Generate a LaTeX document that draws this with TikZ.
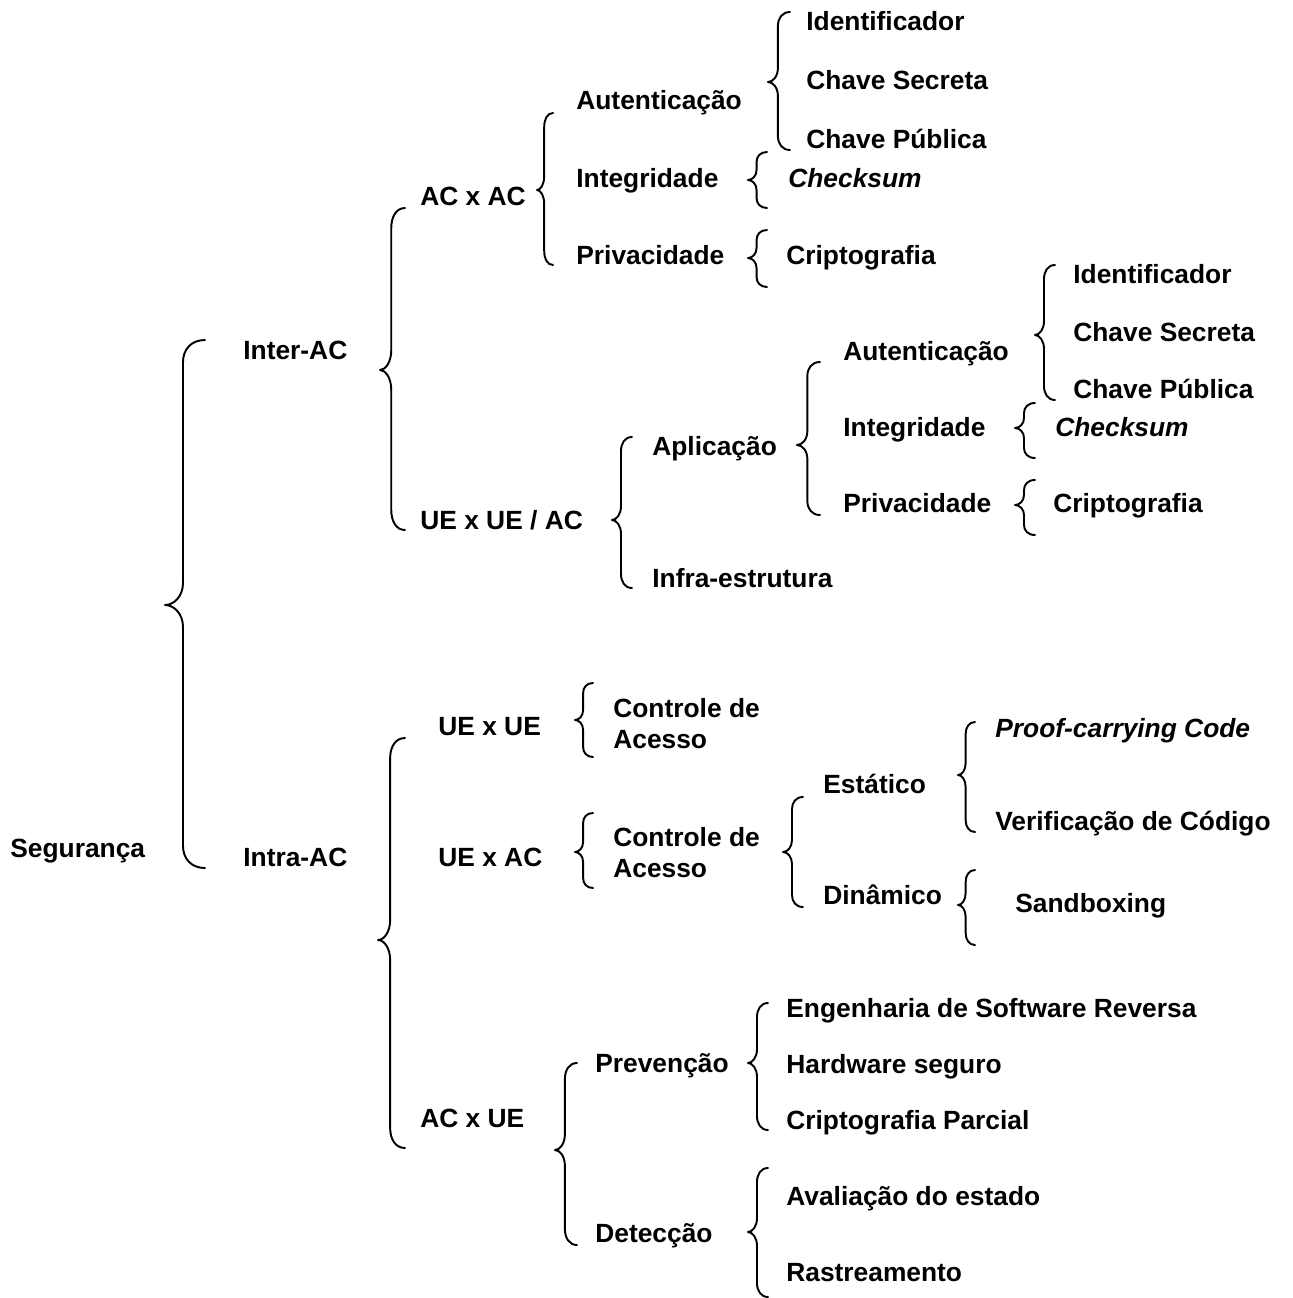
\documentclass[tikz,border=0pt]{standalone}
\usepackage{fontspec}
\setmainfont{Liberation Sans}
\newcommand{\cbrace}[6]{%
  \pgfmathsetmacro{\brXv}{#1+0.45*(#2-#1)}%
  \pgfmathsetmacro{\brXa}{\brXv+0.35*(#2-\brXv)}%
  \pgfmathsetmacro{\brXm}{#1+0.5*(\brXv-#1)}%
  \draw[bracestyle] (#2,#3) .. controls (\brXa,#3) and (\brXv,#3+0.45*#6) .. (\brXv,#3+#6)
    -- (\brXv,#4-#6) .. controls (\brXv,#4-0.4*#6) and (\brXm,#4) .. (#1,#4)
    .. controls (\brXm,#4) and (\brXv,#4+0.4*#6) .. (\brXv,#4+#6)
    -- (\brXv,#5-#6) .. controls (\brXv,#5-0.45*#6) and (\brXa,#5) .. (#2,#5);%
}
\begin{document}
\begin{tikzpicture}[x=0.02cm,y=-0.02cm,
  bracestyle/.style={line width=1.1pt,line cap=round,line join=round},
  lbl/.style={anchor=base west,inner sep=0pt,font=\fontsize{15}{17.6}\selectfont\bfseries},
  lbl2/.style={anchor=west,inner sep=0pt,align=left,font=\fontsize{15}{17.6}\selectfont\bfseries}]
\useasboundingbox[fill=white] (0,0) rectangle (1292,1298);
% labels (baseline = visual centre + 9)
\node[lbl] (seg) at (10,857) {Segurança};
\node[lbl] (inter) at (243,359) {Inter-AC};
\node[lbl] (intra) at (243,866) {Intra-AC};
\node[lbl] (acac) at (420,205) {AC x AC};
\node[lbl] (ueueac) at (420,529) {UE x UE / AC};
\node[lbl] (aut1) at (576,109) {Autenticação};
\node[lbl] (int1) at (576,187) {Integridade};
\node[lbl] (pri1) at (576,264) {Privacidade};
\node[lbl] (id1) at (806,31) {Identificador};
\node[lbl] (cs1) at (806,89) {Chave Secreta};
\node[lbl] (cp1) at (806,148) {Chave Pública};
\node[lbl] (chk1) at (788,187) {\itshape Checksum};
\node[lbl] (cri1) at (786,264) {Criptografia};
\node[lbl] (apl) at (652,455) {Aplicação};
\node[lbl] (infra) at (652,587) {Infra-estrutura};
\node[lbl] (aut2) at (843,360) {Autenticação};
\node[lbl] (int2) at (843,436) {Integridade};
\node[lbl] (pri2) at (843,512) {Privacidade};
\node[lbl] (id2) at (1073,283) {Identificador};
\node[lbl] (cs2) at (1073,341) {Chave Secreta};
\node[lbl] (cp2) at (1073,398) {Chave Pública};
\node[lbl] (chk2) at (1055,436) {\itshape Checksum};
\node[lbl] (cri2) at (1053,512) {Criptografia};
\node[lbl] (ueue) at (438,735) {UE x UE};
\node[lbl2] (ca1) at (613,723.4) {Controle de\\Acesso};
\node[lbl] (ueac) at (438,866) {UE x AC};
\node[lbl2] (ca2) at (613,852.8) {Controle de\\Acesso};
\node[lbl] (est) at (823,793) {Estático};
\node[lbl] (din) at (823,904) {Dinâmico};
\node[lbl] (pcc) at (995,737) {\itshape Proof-carrying Code};
\node[lbl] (ver) at (995,830) {Verificação de Código};
\node[lbl] (sand) at (1015,912) {Sandboxing};
\node[lbl] (acue) at (420,1127) {AC x UE};
\node[lbl] (prev) at (595,1072) {Prevenção};
\node[lbl] (det) at (595,1242) {Detecção};
\node[lbl] (eng) at (786,1017) {Engenharia de Software Reversa};
\node[lbl] (hw) at (786,1073) {Hardware seguro};
\node[lbl] (crp) at (786,1129) {Criptografia Parcial};
\node[lbl] (ava) at (786,1205) {Avaliação do estado};
\node[lbl] (ras) at (786,1281) {Rastreamento};
% braces: tip x, hook x, top, tip y, bottom, radius
\cbrace{165}{205}{340}{605}{868}{22}
\cbrace{380}{405}{208}{370}{530}{20}
\cbrace{378}{405}{738}{940}{1148}{20}
\cbrace{537}{553}{113}{190}{265}{14}
\cbrace{768}{790}{12}{82}{150}{14}
\cbrace{748}{767}{152}{180}{208}{10}
\cbrace{748}{767}{230}{258}{287}{10}
\cbrace{612}{632}{437}{520}{588}{14}
\cbrace{797}{820}{362}{445}{515}{14}
\cbrace{1035}{1055}{265}{335}{400}{14}
\cbrace{1015}{1035}{403}{428}{458}{10}
\cbrace{1015}{1035}{480}{505}{535}{10}
\cbrace{575}{593}{683}{720}{757}{10}
\cbrace{575}{593}{813}{852}{888}{10}
\cbrace{783}{803}{797}{852}{907}{12}
\cbrace{958}{975}{722}{775}{832}{12}
\cbrace{958}{975}{870}{905}{945}{12}
\cbrace{555}{577}{1063}{1150}{1245}{16}
\cbrace{748}{768}{1003}{1063}{1130}{14}
\cbrace{748}{768}{1168}{1232}{1297}{14}
\end{tikzpicture}
\end{document}
